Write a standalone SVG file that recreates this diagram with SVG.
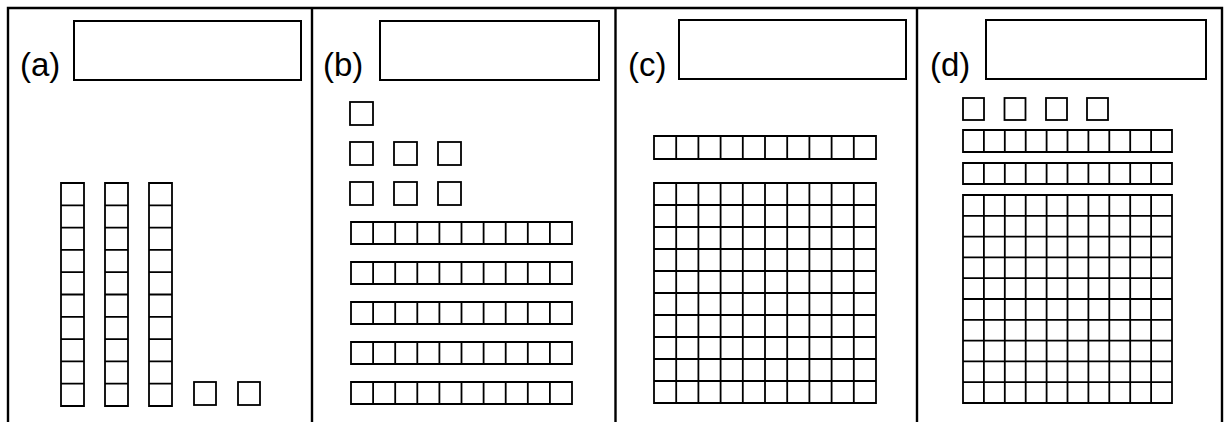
<svg xmlns="http://www.w3.org/2000/svg" width="1225" height="422" viewBox="0 0 1225 422">
<style>
.frame{fill:none;stroke:#000;stroke-width:2.4}
.box{fill:none;stroke:#000;stroke-width:2}
.cell{fill:none;stroke:#000;stroke-width:1.8}
.lbl{font-family:"Liberation Sans",Arial,sans-serif;font-size:33px;fill:#000}
</style>
<rect width="1225" height="422" fill="#fff"/>
<g id="frame">
<path class="frame" d="M8,422 V8 H1222 V422 M312,8 V422 M615.5,8 V422 M917,8 V422"/>
</g>
<g id="panel-a">
<text class="lbl" x="20" y="76">(a)</text>
<rect class="box" x="74" y="21" width="227" height="59"/>
<g id="a-rods">
<path class="cell" d="M61,183 h23 v223 h-23 z M61,205.3 h23 M61,227.6 h23 M61,249.9 h23 M61,272.2 h23 M61,294.5 h23 M61,316.8 h23 M61,339.1 h23 M61,361.4 h23 M61,383.7 h23"/>
<path class="cell" d="M105,183 h23 v223 h-23 z M105,205.3 h23 M105,227.6 h23 M105,249.9 h23 M105,272.2 h23 M105,294.5 h23 M105,316.8 h23 M105,339.1 h23 M105,361.4 h23 M105,383.7 h23"/>
<path class="cell" d="M149,183 h23 v223 h-23 z M149,205.3 h23 M149,227.6 h23 M149,249.9 h23 M149,272.2 h23 M149,294.5 h23 M149,316.8 h23 M149,339.1 h23 M149,361.4 h23 M149,383.7 h23"/>
</g>
<g id="a-units">
<rect class="cell" x="194" y="382" width="22" height="23"/>
<rect class="cell" x="238" y="382" width="22" height="23"/>
</g>
</g>
<g id="panel-b">
<text class="lbl" x="323" y="76">(b)</text>
<rect class="box" x="380" y="21" width="219" height="59"/>
<g id="b-units">
<rect class="cell" x="350" y="102" width="23" height="23"/>
<rect class="cell" x="350" y="142" width="23" height="23"/>
<rect class="cell" x="394" y="142" width="23" height="23"/>
<rect class="cell" x="438" y="142" width="23" height="23"/>
<rect class="cell" x="350" y="182" width="23" height="23"/>
<rect class="cell" x="394" y="182" width="23" height="23"/>
<rect class="cell" x="438" y="182" width="23" height="23"/>
</g>
<g id="b-rods">
<path class="cell" d="M351,222 h221 v22 h-221 z M373.1,222 v22 M395.2,222 v22 M417.3,222 v22 M439.4,222 v22 M461.5,222 v22 M483.6,222 v22 M505.7,222 v22 M527.8,222 v22 M549.9,222 v22"/>
<path class="cell" d="M351,262 h221 v22 h-221 z M373.1,262 v22 M395.2,262 v22 M417.3,262 v22 M439.4,262 v22 M461.5,262 v22 M483.6,262 v22 M505.7,262 v22 M527.8,262 v22 M549.9,262 v22"/>
<path class="cell" d="M351,302 h221 v22 h-221 z M373.1,302 v22 M395.2,302 v22 M417.3,302 v22 M439.4,302 v22 M461.5,302 v22 M483.6,302 v22 M505.7,302 v22 M527.8,302 v22 M549.9,302 v22"/>
<path class="cell" d="M351,342 h221 v22 h-221 z M373.1,342 v22 M395.2,342 v22 M417.3,342 v22 M439.4,342 v22 M461.5,342 v22 M483.6,342 v22 M505.7,342 v22 M527.8,342 v22 M549.9,342 v22"/>
<path class="cell" d="M351,382 h221 v22 h-221 z M373.1,382 v22 M395.2,382 v22 M417.3,382 v22 M439.4,382 v22 M461.5,382 v22 M483.6,382 v22 M505.7,382 v22 M527.8,382 v22 M549.9,382 v22"/>
</g>
</g>
<g id="panel-c">
<text class="lbl" x="628" y="76">(c)</text>
<rect class="box" x="679" y="20" width="227" height="59"/>
<path id="c-rod" class="cell" d="M654,136 h222 v23 h-222 z M676.2,136 v23 M698.4,136 v23 M720.6,136 v23 M742.8,136 v23 M765,136 v23 M787.2,136 v23 M809.4,136 v23 M831.6,136 v23 M853.8,136 v23"/>
<path id="c-flat" class="cell" d="M654,183 h222 v220 h-222 z M676.2,183 v220 M698.4,183 v220 M720.6,183 v220 M742.8,183 v220 M765,183 v220 M787.2,183 v220 M809.4,183 v220 M831.6,183 v220 M853.8,183 v220 M654,205 h222 M654,227 h222 M654,249 h222 M654,271 h222 M654,293 h222 M654,315 h222 M654,337 h222 M654,359 h222 M654,381 h222"/>
</g>
<g id="panel-d">
<text class="lbl" x="930" y="76">(d)</text>
<rect class="box" x="986" y="20" width="220" height="59"/>
<g id="d-units">
<rect class="cell" x="963" y="98" width="21" height="22"/>
<rect class="cell" x="1004.5" y="98" width="21" height="22"/>
<rect class="cell" x="1046" y="98" width="21" height="22"/>
<rect class="cell" x="1087" y="98" width="21" height="22"/>
</g>
<g id="d-rods">
<path class="cell" d="M963,130 h209 v22 h-209 z M983.9,130 v22 M1004.8,130 v22 M1025.7,130 v22 M1046.6,130 v22 M1067.5,130 v22 M1088.4,130 v22 M1109.3,130 v22 M1130.2,130 v22 M1151.1,130 v22"/>
<path class="cell" d="M963,163 h209 v21 h-209 z M983.9,163 v21 M1004.8,163 v21 M1025.7,163 v21 M1046.6,163 v21 M1067.5,163 v21 M1088.4,163 v21 M1109.3,163 v21 M1130.2,163 v21 M1151.1,163 v21"/>
</g>
<path id="d-flat" class="cell" d="M963,195 h209 v208 h-209 z M983.9,195 v208 M1004.8,195 v208 M1025.7,195 v208 M1046.6,195 v208 M1067.5,195 v208 M1088.4,195 v208 M1109.3,195 v208 M1130.2,195 v208 M1151.1,195 v208 M963,215.8 h209 M963,236.6 h209 M963,257.4 h209 M963,278.2 h209 M963,299 h209 M963,319.8 h209 M963,340.6 h209 M963,361.4 h209 M963,382.2 h209"/>
</g>
</svg>
